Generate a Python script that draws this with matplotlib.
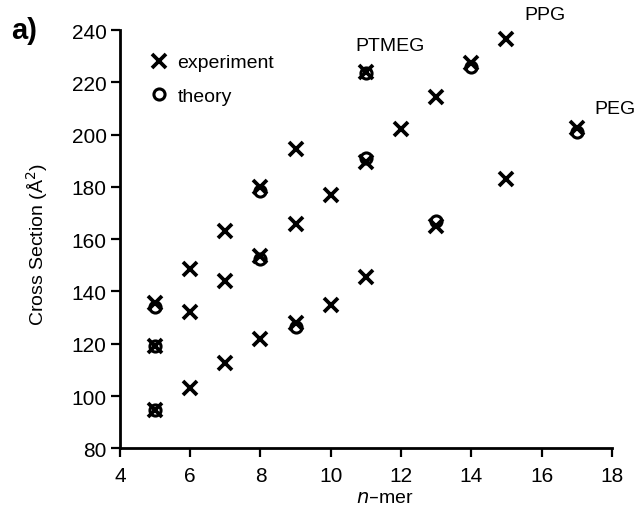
import matplotlib
matplotlib.use("Agg")
import matplotlib.pyplot as plt
from matplotlib.lines import Line2D

plt.rcParams['font.family'] = ['Liberation Sans', 'DejaVu Sans']

# Experiment data (n-mer, cross section in Å^2)
ptmeg_n = [5, 6, 7, 8, 9, 11]
ptmeg_exp = [135.5, 148.5, 163, 180, 194.5, 224]
ppg_n = [5, 6, 7, 8, 9, 10, 11, 12, 13, 14, 15]
ppg_exp = [119, 132, 144, 153.5, 166, 177, 189.5, 202, 214.5, 227.5, 236.5]
peg_n = [5, 6, 7, 8, 9, 10, 11, 13, 15, 17]
peg_exp = [94.5, 103, 112.5, 122, 128, 135, 145.5, 165, 183, 202.5]

# Theory data
ptmeg_th_n = [5, 8, 11]
ptmeg_th = [134, 178.5, 223.5]
ppg_th_n = [5, 8, 11, 14]
ppg_th = [119, 152.5, 191, 226]
peg_th_n = [5, 9, 13, 17]
peg_th = [94.5, 126.5, 167, 201]

xticks = [4, 6, 8, 10, 12, 14, 16, 18]
yticks = [80, 100, 120, 140, 160, 180, 200, 220, 240]

fig = plt.figure(figsize=(6.38, 5.10), dpi=100)
ax = fig.add_axes([0.188, 0.119, 0.771, 0.820])

xkw = dict(linestyle='none', marker='x', color='black', markersize=9.5, markeredgewidth=2.7)
okw = dict(linestyle='none', marker='o', markerfacecolor='none', markeredgecolor='black',
           markersize=8, markeredgewidth=2.2)

for n, v in [(ptmeg_n, ptmeg_exp), (ppg_n, ppg_exp), (peg_n, peg_exp)]:
    ax.plot(n, v, **xkw)
for n, v in [(ptmeg_th_n, ptmeg_th), (ppg_th_n, ppg_th), (peg_th_n, peg_th)]:
    ax.plot(n, v, **okw)

ax.set_xlim(4, 18)
ax.set_ylim(80, 240)
ax.set_xticks(xticks)
ax.set_yticks(yticks)
ax.tick_params(direction='out', length=6.5, width=1.6, labelsize=15)
ax.tick_params(axis='y', pad=3)
ax.tick_params(axis='x', pad=6)

for s in ['top', 'right']:
    ax.spines[s].set_visible(False)
for s in ['left', 'bottom']:
    ax.spines[s].set_linewidth(2.0)

ax.set_xlabel('$\\it{n}$–mer', fontsize=14)
ax.xaxis.set_label_coords(0.538, -0.097)
ax.set_ylabel('Cross Section (Å$^2$)', fontsize=14)
ax.yaxis.set_label_coords(-0.143, 0.49)

handles = [Line2D([], [], **xkw), Line2D([], [], **okw)]
ax.legend(handles, ['experiment', 'theory'], loc='upper left', bbox_to_anchor=(0.028, 0.985),
          frameon=False, fontsize=14, handlelength=0.8, handletextpad=0.55, labelspacing=0.8)

ax.text(11.7, 234, 'PTMEG', fontsize=14, ha='center', va='center')
ax.text(16.1, 246, 'PPG', fontsize=14, ha='center', va='center', clip_on=False)
ax.text(18.1, 210, 'PEG', fontsize=14, ha='center', va='center', clip_on=False)

fig.text(0.018, 0.94, 'a)', fontsize=21, fontweight='bold', ha='left', va='center')

fig.savefig('out.png', dpi=100)
